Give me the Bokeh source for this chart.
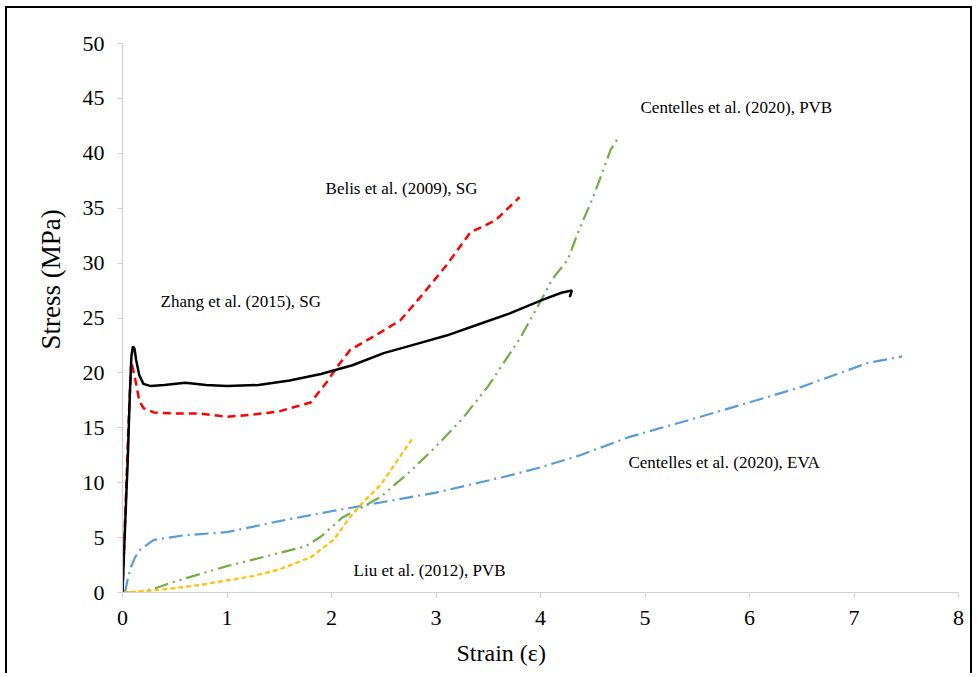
from bokeh.plotting import figure
from bokeh.embed import file_html
from bokeh.resources import INLINE
from bokeh.core.properties import value
from bokeh.models import FixedTicker, Title

# ---- data ----
zhang_x = [0, 0.02, 0.05, 0.07, 0.085, 0.10, 0.115, 0.13, 0.16, 0.20, 0.27, 0.4, 0.6, 0.8, 1.0, 1.3,
           1.6, 1.9, 2.2, 2.5, 2.8, 3.1, 3.43, 3.7, 4.03, 4.2, 4.3, 4.28]
zhang_y = [0, 5, 12, 18, 21.5, 22.4, 22.2, 21.2, 19.8, 19.0, 18.8, 18.9, 19.1, 18.9, 18.8, 18.9,
           19.3, 19.9, 20.7, 21.8, 22.6, 23.4, 24.5, 25.4, 26.7, 27.3, 27.5, 26.9]

belis_x = [0, 0.03, 0.06, 0.085, 0.12, 0.16, 0.2, 0.3, 0.5, 0.75, 1.0, 1.25, 1.5, 1.8, 1.95, 2.05,
           2.18, 2.4, 2.66, 2.85, 3.1, 3.33, 3.57, 3.8]
belis_y = [0, 8, 16, 21.0, 19.5, 17.5, 16.8, 16.4, 16.3, 16.3, 16.0, 16.2, 16.5, 17.3, 19.1, 20.5,
           22.1, 23.3, 24.8, 26.9, 29.8, 32.8, 33.9, 36.0]

pvb_c_x = [0, 0.17, 0.35, 0.5, 0.75, 1.0, 1.25, 1.5, 1.75, 1.9, 2.1, 2.3, 2.47, 2.75, 3.0, 3.25,
           3.5, 3.8, 4.0, 4.11, 4.26, 4.38, 4.5, 4.57, 4.67, 4.75]
pvb_c_y = [0, 0, 0.5, 1.0, 1.7, 2.4, 3.0, 3.6, 4.2, 5.1, 6.8, 7.8, 8.7, 11.0, 13.3, 15.8,
           18.8, 23.1, 26.5, 28.5, 30.3, 33.3, 35.9, 37.7, 40.3, 41.5]

eva_x = [0.02, 0.03, 0.05, 0.08, 0.12, 0.17, 0.3, 0.58, 1.0, 1.5, 2.0, 2.47, 3.0, 3.68, 4.0, 4.38,
         4.86, 5.53, 6.49, 7.13, 7.46]
eva_y = [0, 0.3, 1.2, 2.3, 3.2, 3.9, 4.8, 5.2, 5.5, 6.5, 7.4, 8.2, 9.1, 10.6, 11.4, 12.5,
         14.2, 16.0, 18.7, 20.9, 21.5]

liu_x = [0, 0.3, 0.5, 0.75, 1.0, 1.25, 1.5, 1.8, 2.02, 2.18, 2.3, 2.47, 2.6, 2.78]
liu_y = [0, 0.2, 0.4, 0.7, 1.1, 1.5, 2.1, 3.2, 4.8, 6.9, 8.2, 9.8, 11.6, 14.1]

x_ticks = [0, 1, 2, 3, 4, 5, 6, 7, 8]
y_ticks = [0, 5, 10, 15, 20, 25, 30, 35, 40, 45, 50]

labels = ["Centelles et al. (2020), PVB", "Belis et al. (2009), SG", "Zhang et al. (2015), SG",
          "Centelles et al. (2020), EVA", "Liu et al. (2012), PVB"]
x_title = "Strain (ε)"
y_title = "Stress (MPa)"

FONT = "Liberation Serif"

p = figure(width=967, height=667, x_range=(0, 8), y_range=(0, 50),
           output_backend="svg", toolbar_location=None,
           min_border_left=115, min_border_right=16, min_border_top=35, min_border_bottom=82)
p.styles = {"border": "2px solid black", "border-bottom": "none",
            "margin-left": "5px", "margin-top": "6px"}
p.outline_line_color = None
p.xgrid.visible = False
p.ygrid.visible = False
p.background_fill_color = "white"
p.border_fill_color = "white"

for ax in (p.xaxis[0], p.yaxis[0]):
    ax.axis_line_color = "#d0d0d0"
    ax.axis_line_width = 1.2
    ax.major_tick_line_color = "#d0d0d0"
    ax.major_tick_in = 0
    ax.major_tick_out = 5
    ax.minor_tick_line_color = None
    ax.major_label_text_font = FONT
    ax.major_label_text_font_size = "22px"
    ax.major_label_text_color = "black"
    ax.major_label_standoff = 13

p.xaxis.ticker = FixedTicker(ticks=x_ticks)
p.yaxis.ticker = FixedTicker(ticks=y_ticks)

# axis titles (placed off-centre as in the original)
p.add_layout(Title(text=x_title, text_font=FONT, text_font_size="24px", text_font_style="normal",
                   align="left", offset=334, standoff=20, text_color="black"), "below")
p.add_layout(Title(text=y_title, text_font=FONT, text_font_size="27px", text_font_style="normal",
                   align="left", offset=243, standoff=28, text_color="black"), "left")

p.line(eva_x, eva_y, line_color="#5b9bd5", line_width=2.2, line_dash="14 5 2 5")
p.line(pvb_c_x, pvb_c_y, line_color="#70ad47", line_width=2.2, line_dash="14 5 2 5 2 5")
p.line(liu_x, liu_y, line_color="#ffc000", line_width=2.2, line_dash="5 3")
p.line(belis_x, belis_y, line_color="#ff0000", line_width=2.5, line_dash="8 5")
p.line(zhang_x, zhang_y, line_color="black", line_width=2.5)

lx = [4.957, 1.943, 0.364, 4.842, 2.211]
ly = [44.2, 36.8, 26.5, 11.8, 2.0]
p.text(x=lx, y=ly, text=labels, text_font=value(FONT), text_font_size="17px",
       text_baseline="middle", text_align="left", text_color="black")

open("out.html", "w").write(file_html(p, INLINE))
